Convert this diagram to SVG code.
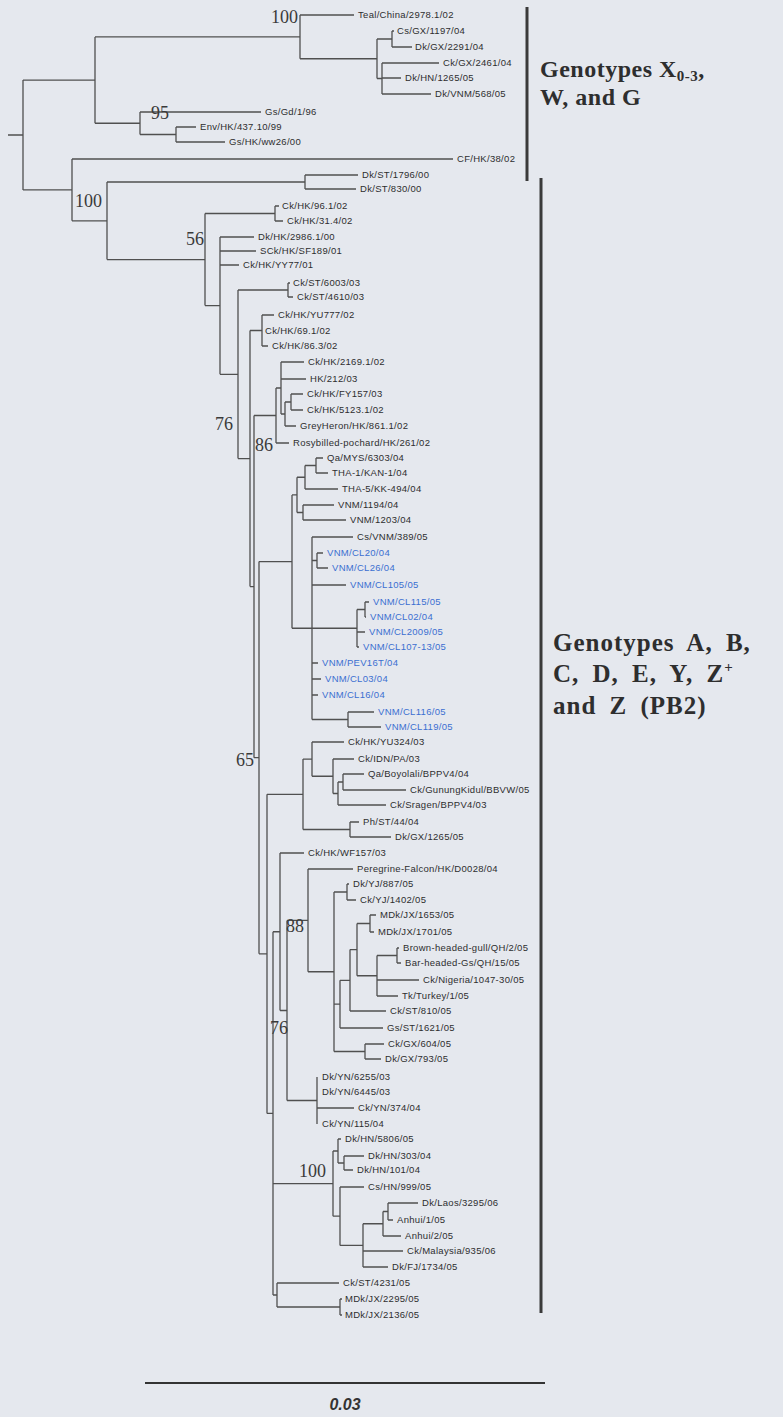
<svg xmlns="http://www.w3.org/2000/svg" width="783" height="1417" viewBox="0 0 783 1417">
<style>
.br{fill:none;stroke:#505050;stroke-width:1.3}
.bar{fill:none;stroke:#3a3a3a;stroke-width:3}
text.l{font-family:'Liberation Sans',Arial,sans-serif;font-size:9.5px;fill:#2e2e2e;letter-spacing:.3px}
text.b{fill:#3b6fd1}
text.bs{font-family:'Liberation Serif','Times New Roman',serif;font-size:18px;fill:#3a3a3a}
text.g{font-family:'Liberation Serif','Times New Roman',serif;font-weight:bold;fill:#2e2e2e}
text.gt{font-size:24px;letter-spacing:.5px}
text.gz{font-size:25px;letter-spacing:1px;word-spacing:6px}
text.sc{font-family:'Liberation Sans',Arial,sans-serif;font-size:16px;font-style:italic;font-weight:bold;fill:#333}
</style>
<rect width="783" height="1417" fill="#e5e8ee"/>

<!-- tree branches, one path per internal node -->
<g id="connectors" class="br">
<path d="M8 135H23M23 80.1V189.9M23 80.1H95M23 189.9H72"/>
<path d="M95 36.9V123.25M95 36.9H300M95 123.25H140"/>
<path d="M300 15V58.75M300 15H354M300 58.75H377"/>
<path d="M377 39V78.5M377 39H392M377 78.5H382"/>
<path d="M392 31V47M392 31H394M392 47H412"/>
<path d="M382 63V94M382 63H439M382 78H401M382 94H431"/>
<path d="M140 112V134.5M140 112H261M140 134.5H176"/>
<path d="M176 127V142M176 127H196M176 142H225"/>
<path d="M72 159V220.8M72 159H453M72 220.8H107"/>
<path d="M107 182V259.6M107 182H305M107 259.6H205"/>
<path d="M305 175V189M305 175H358M305 189H356"/>
<path d="M205 213.5V305.6M205 213.5H275M205 305.6H220"/>
<path d="M275 206V221M275 206H279M275 221H283"/>
<path d="M220 237V374.3M220 237H254M220 251H256M220 265H239M220 374.3H238"/>
<path d="M238 290V458.6M238 290H288M238 458.6H250"/>
<path d="M288 283V297M288 283H290M288 297H293"/>
<path d="M250 330.5V586.6M250 330.5H262M250 586.6H254"/>
<path d="M262 315V346M262 315H274M262 346H268"/>
<path d="M254 415.5V757.7M254 415.5H276M254 757.7H259"/>
<path d="M276 388V443M276 388H281M276 443H289"/>
<path d="M281 362V414M281 362H304M281 379H306M281 414H285"/>
<path d="M285 402V426M285 402H291M285 426H296"/>
<path d="M291 394V410M291 394H303M291 410H303"/>
<path d="M259 561.6V953.85M259 561.6H292M259 953.85H267"/>
<path d="M292 494.9V628.25M292 494.9H297M292 628.25H312"/>
<path d="M297 477.25V512.5M297 477.25H305M297 512.5H303"/>
<path d="M305 465.5V489M305 465.5H316M305 489H338"/>
<path d="M316 458V473M316 458H323M316 473H328"/>
<path d="M303 505V520M303 505H334M303 520H346"/>
<path d="M312 537V719.5M312 537H353M312 560.5H317M312 585H346M312 628.25H357M312 663H318M312 679H321M312 695H318M312 719.5H348"/>
<path d="M317 553V568M317 553H323M317 568H328"/>
<path d="M357 609.5V647M357 609.5H365M357 632H365M357 647H359"/>
<path d="M365 602V617M365 602H369M365 617H366"/>
<path d="M348 712V727M348 712H374M348 727H381"/>
<path d="M267 794.3V1113.4M267 794.3H303M267 1113.4H273"/>
<path d="M303 759.1V829.5M303 759.1H312M303 829.5H350"/>
<path d="M312 742V776.25M312 742H344M312 776.25H333"/>
<path d="M333 759V793.5M333 759H354M333 793.5H338"/>
<path d="M338 782V805M338 782H343M338 805H386"/>
<path d="M343 774V790M343 774H364M343 790H406"/>
<path d="M350 822V837M350 822H359M350 837H391"/>
<path d="M273 931.75V1295M273 931.75H280M273 1183.6H333M273 1295H277"/>
<path d="M280 853V1010.5M280 853H304M280 1010.5H287"/>
<path d="M287 920.4V1100.5M287 920.4H308M287 1100.5H317"/>
<path d="M308 869V971.75M308 869H353M308 971.75H334"/>
<path d="M334 892V1051.5M334 892H347M334 1004.2H340M334 1051.5H365"/>
<path d="M347 884V900M347 884H349M347 900H356"/>
<path d="M340 980.3V1028M340 980.3H350M340 1028H383"/>
<path d="M350 949.6V1011M350 949.6H357M350 1011H386"/>
<path d="M357 923.5V975.75M357 923.5H370M357 975.75H377"/>
<path d="M370 915V932M370 915H376M370 932H374"/>
<path d="M377 955.5V996M377 955.5H397M377 980H419M377 996H398"/>
<path d="M397 948V963M397 948H399M397 963H401"/>
<path d="M365 1044V1059M365 1044H384M365 1059H381"/>
<path d="M317 1077V1124M317 1108H354"/>
<path d="M333 1151V1216.2M333 1151H338M333 1216.2H340"/>
<path d="M338 1139V1163M338 1139H341M338 1163H344"/>
<path d="M344 1156V1170M344 1156H364M344 1170H353"/>
<path d="M340 1187V1245.4M340 1187H364M340 1245.4H363"/>
<path d="M363 1223.75V1267M363 1223.75H383M363 1251H403M363 1267H388"/>
<path d="M383 1211.5V1236M383 1211.5H388M383 1236H401"/>
<path d="M388 1203V1220M388 1203H418M388 1220H393"/>
<path d="M277 1283V1307M277 1283H339M277 1307H340"/>
<path d="M340 1299V1315M340 1299H342M340 1315H342"/>
</g>

<!-- bootstrap support values -->
<g id="support">
<text class="bs" x="298" y="23" text-anchor="end">100</text>
<text class="bs" x="151" y="119">95</text>
<text class="bs" x="75" y="207">100</text>
<text class="bs" x="204" y="245" text-anchor="end">56</text>
<text class="bs" x="215" y="430">76</text>
<text class="bs" x="255" y="451">86</text>
<text class="bs" x="236" y="766">65</text>
<text class="bs" x="286" y="932">88</text>
<text class="bs" x="270" y="1034">76</text>
<text class="bs" x="299" y="1177">100</text>
</g>

<!-- taxa -->
<g id="t01"><text class="l" x="358" y="18">Teal/China/2978.1/02</text></g>
<g id="t02"><text class="l" x="397" y="34">Cs/GX/1197/04</text></g>
<g id="t03"><text class="l" x="415" y="50">Dk/GX/2291/04</text></g>
<g id="t04"><text class="l" x="443" y="66">Ck/GX/2461/04</text></g>
<g id="t05"><text class="l" x="405" y="81">Dk/HN/1265/05</text></g>
<g id="t06"><text class="l" x="435" y="97">Dk/VNM/568/05</text></g>
<g id="t07"><text class="l" x="265" y="115">Gs/Gd/1/96</text></g>
<g id="t08"><text class="l" x="200" y="130">Env/HK/437.10/99</text></g>
<g id="t09"><text class="l" x="229" y="145">Gs/HK/ww26/00</text></g>
<g id="t10"><text class="l" x="457" y="162">CF/HK/38/02</text></g>
<g id="t11"><text class="l" x="362" y="178">Dk/ST/1796/00</text></g>
<g id="t12"><text class="l" x="360" y="192">Dk/ST/830/00</text></g>
<g id="t13"><text class="l" x="282" y="209">Ck/HK/96.1/02</text></g>
<g id="t14"><text class="l" x="287" y="224">Ck/HK/31.4/02</text></g>
<g id="t15"><text class="l" x="258" y="240">Dk/HK/2986.1/00</text></g>
<g id="t16"><text class="l" x="260" y="254">SCk/HK/SF189/01</text></g>
<g id="t17"><text class="l" x="243" y="268">Ck/HK/YY77/01</text></g>
<g id="t18"><text class="l" x="293" y="286">Ck/ST/6003/03</text></g>
<g id="t19"><text class="l" x="297" y="300">Ck/ST/4610/03</text></g>
<g id="t20"><text class="l" x="278" y="318">Ck/HK/YU777/02</text></g>
<g id="t21"><text class="l" x="265" y="334">Ck/HK/69.1/02</text></g>
<g id="t22"><text class="l" x="272" y="349">Ck/HK/86.3/02</text></g>
<g id="t23"><text class="l" x="308" y="365">Ck/HK/2169.1/02</text></g>
<g id="t24"><text class="l" x="310" y="382">HK/212/03</text></g>
<g id="t25"><text class="l" x="307" y="397">Ck/HK/FY157/03</text></g>
<g id="t26"><text class="l" x="307" y="413">Ck/HK/5123.1/02</text></g>
<g id="t27"><text class="l" x="300" y="429">GreyHeron/HK/861.1/02</text></g>
<g id="t28"><text class="l" x="293" y="446">Rosybilled-pochard/HK/261/02</text></g>
<g id="t29"><text class="l" x="327" y="461">Qa/MYS/6303/04</text></g>
<g id="t30"><text class="l" x="332" y="476">THA-1/KAN-1/04</text></g>
<g id="t31"><text class="l" x="342" y="492">THA-5/KK-494/04</text></g>
<g id="t32"><text class="l" x="338" y="508">VNM/1194/04</text></g>
<g id="t33"><text class="l" x="350" y="523">VNM/1203/04</text></g>
<g id="t34"><text class="l" x="357" y="540">Cs/VNM/389/05</text></g>
<g id="t35"><text class="l b" x="327" y="556">VNM/CL20/04</text></g>
<g id="t36"><text class="l b" x="332" y="571">VNM/CL26/04</text></g>
<g id="t37"><text class="l b" x="350" y="588">VNM/CL105/05</text></g>
<g id="t38"><text class="l b" x="373" y="605">VNM/CL115/05</text></g>
<g id="t39"><text class="l b" x="370" y="620">VNM/CL02/04</text></g>
<g id="t40"><text class="l b" x="369" y="635">VNM/CL2009/05</text></g>
<g id="t41"><text class="l b" x="363" y="650">VNM/CL107-13/05</text></g>
<g id="t42"><text class="l b" x="322" y="666">VNM/PEV16T/04</text></g>
<g id="t43"><text class="l b" x="325" y="682">VNM/CL03/04</text></g>
<g id="t44"><text class="l b" x="322" y="698">VNM/CL16/04</text></g>
<g id="t45"><text class="l b" x="378" y="715">VNM/CL116/05</text></g>
<g id="t46"><text class="l b" x="385" y="730">VNM/CL119/05</text></g>
<g id="t47"><text class="l" x="348" y="745">Ck/HK/YU324/03</text></g>
<g id="t48"><text class="l" x="358" y="762">Ck/IDN/PA/03</text></g>
<g id="t49"><text class="l" x="368" y="777">Qa/Boyolali/BPPV4/04</text></g>
<g id="t50"><text class="l" x="410" y="793">Ck/GunungKidul/BBVW/05</text></g>
<g id="t51"><text class="l" x="390" y="808">Ck/Sragen/BPPV4/03</text></g>
<g id="t52"><text class="l" x="363" y="825">Ph/ST/44/04</text></g>
<g id="t53"><text class="l" x="395" y="840">Dk/GX/1265/05</text></g>
<g id="t54"><text class="l" x="308" y="856">Ck/HK/WF157/03</text></g>
<g id="t55"><text class="l" x="357" y="872">Peregrine-Falcon/HK/D0028/04</text></g>
<g id="t56"><text class="l" x="353" y="887">Dk/YJ/887/05</text></g>
<g id="t57"><text class="l" x="360" y="903">Ck/YJ/1402/05</text></g>
<g id="t58"><text class="l" x="380" y="918">MDk/JX/1653/05</text></g>
<g id="t59"><text class="l" x="378" y="935">MDk/JX/1701/05</text></g>
<g id="t60"><text class="l" x="403" y="951">Brown-headed-gull/QH/2/05</text></g>
<g id="t61"><text class="l" x="405" y="966">Bar-headed-Gs/QH/15/05</text></g>
<g id="t62"><text class="l" x="423" y="983">Ck/Nigeria/1047-30/05</text></g>
<g id="t63"><text class="l" x="402" y="999">Tk/Turkey/1/05</text></g>
<g id="t64"><text class="l" x="390" y="1014">Ck/ST/810/05</text></g>
<g id="t65"><text class="l" x="387" y="1031">Gs/ST/1621/05</text></g>
<g id="t66"><text class="l" x="388" y="1047">Ck/GX/604/05</text></g>
<g id="t67"><text class="l" x="385" y="1062">Dk/GX/793/05</text></g>
<g id="t68"><text class="l" x="322" y="1080">Dk/YN/6255/03</text></g>
<g id="t69"><text class="l" x="322" y="1095">Dk/YN/6445/03</text></g>
<g id="t70"><text class="l" x="358" y="1111">Ck/YN/374/04</text></g>
<g id="t71"><text class="l" x="322" y="1127">Ck/YN/115/04</text></g>
<g id="t72"><text class="l" x="345" y="1142">Dk/HN/5806/05</text></g>
<g id="t73"><text class="l" x="368" y="1159">Dk/HN/303/04</text></g>
<g id="t74"><text class="l" x="357" y="1173">Dk/HN/101/04</text></g>
<g id="t75"><text class="l" x="368" y="1190">Cs/HN/999/05</text></g>
<g id="t76"><text class="l" x="422" y="1206">Dk/Laos/3295/06</text></g>
<g id="t77"><text class="l" x="397" y="1223">Anhui/1/05</text></g>
<g id="t78"><text class="l" x="405" y="1239">Anhui/2/05</text></g>
<g id="t79"><text class="l" x="407" y="1254">Ck/Malaysia/935/06</text></g>
<g id="t80"><text class="l" x="392" y="1270">Dk/FJ/1734/05</text></g>
<g id="t81"><text class="l" x="343" y="1286">Ck/ST/4231/05</text></g>
<g id="t82"><text class="l" x="345" y="1302">MDk/JX/2295/05</text></g>
<g id="t83"><text class="l" x="345" y="1318">MDk/JX/2136/05</text></g>

<!-- clade brackets and genotype captions -->
<g id="clade-top">
<path class="bar" d="M527 7V181"/>
<text class="g gt" x="540" y="77">Genotypes X<tspan font-size="15" dy="4">0-3</tspan><tspan dy="-4">,</tspan></text>
<text class="g gt" x="540" y="105">W, and G</text>
</g>
<g id="clade-main">
<path class="bar" d="M541 178V1313"/>
<text class="g gz" x="553" y="651">Genotypes A, B,</text>
<text class="g gz" x="553" y="682">C, D, E, Y, Z<tspan font-size="15" dy="-10">+</tspan></text>
<text class="g gz" x="553" y="714">and Z (PB2)</text>
</g>

<!-- scale bar -->
<g id="scale">
<path d="M145 1383H545" fill="none" stroke="#333" stroke-width="2"/>
<text class="sc" x="345" y="1410" text-anchor="middle">0.03</text>
</g>
</svg>
